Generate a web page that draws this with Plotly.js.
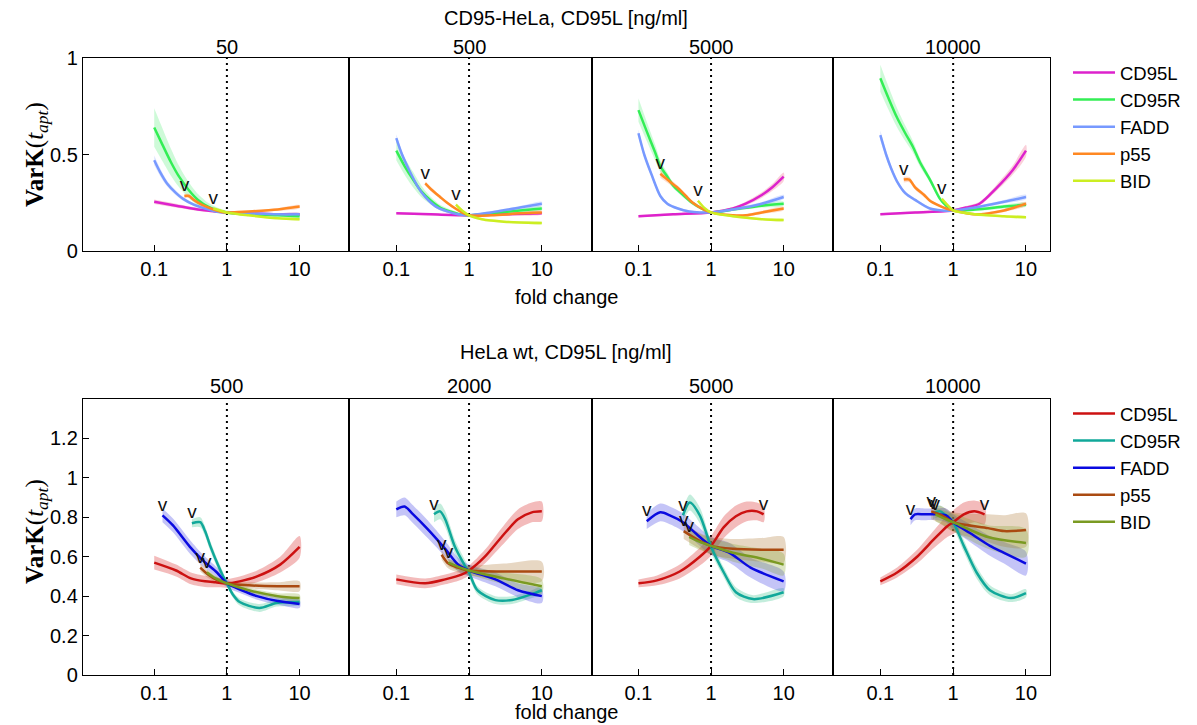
<!DOCTYPE html>
<html><head><meta charset="utf-8">
<script src="https://cdn.plot.ly/plotly-3.0.1.min.js"></script>
<style>html,body{margin:0;padding:0;background:#fff}#chart{width:1197px;height:725px}</style>
</head><body><div id="chart"></div>
<script>
var species = ['CD95L','CD95R','FADD','p55','BID'];
var topConc = ['50','500','5000','10000'];
var botConc = ['500','2000','5000','10000'];
var foldTicks = [0.1, 1, 10];
var foldTickText = ['0.1','1','10'];
var topYTicks = [0, 0.5, 1];
var topYText = ['0','0.5','1'];
var botYTicks = [0, 0.2, 0.4, 0.6, 0.8, 1, 1.2];
var botYText = ['0','0.2','0.4','0.6','0.8','1','1.2'];
var refFold = 1;

// ===== top row: CD95-HeLa, 50 ng/ml =====
var T1_CD95L_x = [0.1,0.2,0.4,1,2,5,10];
var T1_CD95L_y = [0.255,0.235,0.215,0.2,0.195,0.19,0.19];
var T1_CD95L_e = [0.012,0.01,0.008,0.006,0.006,0.006,0.008];
var T1_CD95R_x = [0.1,0.13,0.17,0.22,0.3,0.4,0.55,0.75,1,2,5,10];
var T1_CD95R_y = [0.64,0.55,0.46,0.385,0.315,0.265,0.23,0.21,0.2,0.19,0.185,0.18];
var T1_CD95R_e = [0.1,0.085,0.07,0.055,0.04,0.03,0.02,0.014,0.01,0.008,0.008,0.008];
var T1_FADD_x = [0.1,0.12,0.15,0.2,0.25,0.35,0.5,0.7,1,2,5,10];
var T1_FADD_y = [0.47,0.41,0.35,0.3,0.27,0.24,0.22,0.205,0.2,0.195,0.19,0.19];
var T1_FADD_e = [0.025,0.02,0.015,0.012,0.01,0.008,0.006,0.006,0.006,0.006,0.006,0.006];
var T1_p55_x = [0.26,0.3,0.35,0.45,0.6,0.8,1,2,5,10];
var T1_p55_y = [0.285,0.285,0.265,0.24,0.22,0.205,0.2,0.205,0.215,0.23];
var T1_p55_e = [0.01,0.01,0.009,0.008,0.007,0.006,0.006,0.006,0.007,0.008];
var T1_BID_x = [0.65,0.8,1,2,5,10];
var T1_BID_y = [0.22,0.21,0.2,0.185,0.17,0.165];
var T1_BID_e = [0.008,0.007,0.006,0.006,0.006,0.006];
var T1_marks = ['p55:start','BID:start'];

// ===== top row: 500 ng/ml =====
var T2_CD95L_x = [0.1,0.3,1,3,10];
var T2_CD95L_y = [0.195,0.19,0.185,0.19,0.195];
var T2_CD95L_e = [0.006,0.006,0.006,0.006,0.006];
var T2_CD95R_x = [0.1,0.13,0.17,0.22,0.3,0.4,0.55,0.75,1,2,5,10];
var T2_CD95R_y = [0.52,0.44,0.37,0.31,0.26,0.225,0.205,0.19,0.185,0.195,0.21,0.22];
var T2_CD95R_e = [0.05,0.045,0.04,0.03,0.02,0.015,0.01,0.008,0.006,0.008,0.01,0.01];
var T2_FADD_x = [0.1,0.12,0.15,0.2,0.25,0.35,0.5,0.7,1,2,5,10];
var T2_FADD_y = [0.585,0.5,0.42,0.33,0.28,0.23,0.205,0.19,0.185,0.2,0.225,0.245];
var T2_FADD_e = [0.02,0.016,0.013,0.01,0.008,0.007,0.006,0.006,0.006,0.007,0.008,0.01];
var T2_p55_x = [0.25,0.3,0.4,0.5,0.65,0.8,1,2,5,10];
var T2_p55_y = [0.35,0.32,0.28,0.25,0.22,0.2,0.185,0.185,0.195,0.2];
var T2_p55_e = [0.01,0.01,0.009,0.008,0.007,0.006,0.006,0.006,0.007,0.008];
var T2_BID_x = [0.66,0.8,1,1.5,2,3,5,10];
var T2_BID_y = [0.24,0.21,0.185,0.165,0.158,0.152,0.148,0.145];
var T2_BID_e = [0.008,0.007,0.006,0.006,0.006,0.006,0.006,0.006];
var T2_marks = ['p55:start','BID:start'];

// ===== top row: 5000 ng/ml =====
var T3_CD95L_x = [0.1,0.3,1,2,3,5,7,10];
var T3_CD95L_y = [0.18,0.19,0.2,0.22,0.245,0.29,0.33,0.385];
var T3_CD95L_e = [0.006,0.006,0.006,0.008,0.01,0.014,0.018,0.022];
var T3_CD95R_x = [0.1,0.13,0.17,0.2,0.25,0.3,0.4,0.55,0.75,1,2,5,10];
var T3_CD95R_y = [0.73,0.62,0.51,0.44,0.385,0.34,0.295,0.25,0.22,0.2,0.215,0.235,0.245];
var T3_CD95R_e = [0.06,0.05,0.04,0.03,0.02,0.015,0.012,0.01,0.008,0.006,0.008,0.01,0.01];
var T3_FADD_x = [0.1,0.12,0.15,0.2,0.25,0.35,0.5,0.7,1,2,5,10];
var T3_FADD_y = [0.61,0.5,0.4,0.285,0.245,0.22,0.205,0.2,0.2,0.215,0.245,0.28];
var T3_FADD_e = [0.02,0.016,0.013,0.01,0.008,0.007,0.006,0.006,0.006,0.007,0.009,0.011];
var T3_p55_x = [0.2,0.25,0.34,0.45,0.56,0.75,1,2,3,5,10];
var T3_p55_y = [0.4,0.37,0.33,0.285,0.25,0.22,0.2,0.185,0.185,0.2,0.22];
var T3_p55_e = [0.02,0.016,0.012,0.01,0.008,0.007,0.006,0.006,0.007,0.008,0.009];
var T3_BID_x = [0.66,0.8,1,2,5,10];
var T3_BID_y = [0.26,0.225,0.2,0.18,0.165,0.16];
var T3_BID_e = [0.008,0.007,0.006,0.006,0.006,0.006];
var T3_marks = ['p55:start','BID:start'];

// ===== top row: 10000 ng/ml =====
var T4_CD95L_x = [0.1,0.3,1,1.5,2.3,3.9,6.6,10];
var T4_CD95L_y = [0.19,0.2,0.21,0.225,0.245,0.325,0.42,0.52];
var T4_CD95L_e = [0.006,0.006,0.006,0.008,0.01,0.016,0.024,0.03];
var T4_CD95R_x = [0.1,0.13,0.17,0.22,0.28,0.35,0.48,0.66,0.8,1,2,5,10];
var T4_CD95R_y = [0.895,0.79,0.69,0.61,0.54,0.46,0.37,0.27,0.235,0.21,0.215,0.23,0.24];
var T4_CD95R_e = [0.07,0.06,0.05,0.04,0.03,0.022,0.015,0.01,0.008,0.006,0.008,0.01,0.01];
var T4_FADD_x = [0.1,0.12,0.14,0.17,0.22,0.3,0.48,0.7,1,2,5,10];
var T4_FADD_y = [0.6,0.5,0.43,0.36,0.3,0.265,0.22,0.21,0.21,0.225,0.255,0.28];
var T4_FADD_e = [0.025,0.02,0.016,0.012,0.01,0.008,0.006,0.006,0.006,0.007,0.009,0.011];
var T4_p55_x = [0.21,0.25,0.3,0.4,0.48,0.6,0.8,1,2,3,5,10];
var T4_p55_y = [0.37,0.37,0.33,0.29,0.26,0.24,0.22,0.21,0.19,0.195,0.21,0.245];
var T4_p55_e = [0.015,0.014,0.012,0.01,0.008,0.007,0.006,0.006,0.006,0.007,0.008,0.01];
var T4_BID_x = [0.7,0.85,1,2,5,10];
var T4_BID_y = [0.27,0.235,0.21,0.19,0.18,0.175];
var T4_BID_e = [0.008,0.007,0.006,0.006,0.006,0.006];
var T4_marks = ['p55:start','BID:start'];

// ===== bottom row: HeLa wt, 500 ng/ml =====
var B1_CD95L_x = [0.1,0.2,0.32,0.5,0.7,1,1.5,2.6,5.4,10];
var B1_CD95L_y = [0.57,0.53,0.49,0.475,0.47,0.465,0.475,0.5,0.56,0.65];
var B1_CD95L_e = [0.035,0.03,0.03,0.028,0.025,0.022,0.025,0.03,0.04,0.055];
var B1_CD95R_x = [0.33,0.43,0.5,0.59,0.75,0.89,1,1.2,1.5,2.8,4.8,10];
var B1_CD95R_y = [0.77,0.775,0.73,0.655,0.56,0.5,0.465,0.41,0.37,0.34,0.365,0.37];
var B1_CD95R_e = [0.02,0.025,0.025,0.025,0.022,0.02,0.015,0.015,0.018,0.02,0.018,0.015];
var B1_FADD_x = [0.13,0.18,0.31,0.47,0.73,1,1.6,2.6,5,10];
var B1_FADD_y = [0.81,0.76,0.65,0.58,0.52,0.465,0.43,0.4,0.375,0.36];
var B1_FADD_e = [0.035,0.035,0.035,0.03,0.025,0.02,0.018,0.018,0.018,0.02];
var B1_p55_x = [0.43,0.55,0.75,1,2,5,10];
var B1_p55_y = [0.545,0.51,0.48,0.465,0.455,0.45,0.45];
var B1_p55_e = [0.02,0.018,0.015,0.012,0.015,0.02,0.025];
var B1_BID_x = [0.53,0.7,1,2,5,10];
var B1_BID_y = [0.52,0.49,0.465,0.43,0.4,0.39];
var B1_BID_e = [0.015,0.012,0.01,0.012,0.015,0.018];
var B1_marks = ['FADD:start','CD95R:start','p55:start','BID:start'];

// ===== bottom row: 2000 ng/ml =====
var B2_CD95L_x = [0.1,0.25,0.47,0.8,1,1.65,2.8,4.7,7.3,10];
var B2_CD95L_y = [0.485,0.465,0.485,0.51,0.53,0.6,0.7,0.79,0.825,0.83];
var B2_CD95L_e = [0.025,0.025,0.025,0.025,0.025,0.035,0.045,0.05,0.05,0.05];
var B2_CD95R_x = [0.33,0.4,0.47,0.64,0.89,1,1.3,2.3,3.9,7.3,10];
var B2_CD95R_y = [0.815,0.83,0.79,0.65,0.55,0.52,0.43,0.38,0.38,0.41,0.43];
var B2_CD95R_e = [0.04,0.04,0.04,0.035,0.03,0.025,0.02,0.02,0.02,0.02,0.02];
var B2_FADD_x = [0.1,0.13,0.165,0.27,0.47,0.71,1,2.3,4.7,10];
var B2_FADD_y = [0.84,0.855,0.82,0.74,0.64,0.56,0.53,0.485,0.43,0.4];
var B2_FADD_e = [0.04,0.045,0.045,0.045,0.04,0.035,0.03,0.035,0.035,0.035];
var B2_p55_x = [0.42,0.52,0.7,1,3,10];
var B2_p55_y = [0.61,0.565,0.545,0.53,0.525,0.525];
var B2_p55_e = [0.025,0.025,0.025,0.025,0.04,0.05];
var B2_BID_x = [0.52,0.7,1,3,10];
var B2_BID_y = [0.57,0.55,0.53,0.49,0.45];
var B2_BID_e = [0.02,0.02,0.02,0.03,0.035];
var B2_marks = ['CD95R:start','p55:start','BID:start'];

// ===== bottom row: 5000 ng/ml =====
var B3_CD95L_x = [0.1,0.18,0.37,0.7,1,1.5,2.2,3.1,4.3,5.3];
var B3_CD95L_y = [0.465,0.48,0.525,0.6,0.655,0.75,0.805,0.83,0.83,0.815];
var B3_CD95L_e = [0.02,0.025,0.035,0.045,0.05,0.055,0.055,0.05,0.045,0.04];
var B3_CD95R_x = [0.41,0.51,0.7,1,1.5,2.2,3.8,10];
var B3_CD95R_y = [0.81,0.875,0.81,0.65,0.52,0.42,0.385,0.42];
var B3_CD95R_e = [0.03,0.04,0.04,0.03,0.025,0.025,0.02,0.02];
var B3_FADD_x = [0.13,0.2,0.27,0.41,0.63,1,1.8,3.5,10];
var B3_FADD_y = [0.78,0.825,0.81,0.775,0.715,0.655,0.62,0.545,0.475];
var B3_FADD_e = [0.04,0.045,0.045,0.045,0.045,0.045,0.05,0.05,0.05];
var B3_p55_x = [0.42,0.7,1,2,5,10];
var B3_p55_y = [0.73,0.68,0.655,0.64,0.635,0.635];
var B3_p55_e = [0.04,0.04,0.045,0.05,0.06,0.065];
var B3_BID_x = [0.5,0.7,1,2,5,10];
var B3_BID_y = [0.7,0.675,0.655,0.62,0.59,0.56];
var B3_BID_e = [0.04,0.04,0.04,0.045,0.05,0.055];
var B3_marks = ['FADD:start','CD95R:start','p55:start','BID:start','CD95L:end'];

// ===== bottom row: 10000 ng/ml =====
var B4_CD95L_x = [0.1,0.17,0.32,0.55,0.83,1,1.4,1.95,2.7];
var B4_CD95L_y = [0.475,0.52,0.6,0.69,0.755,0.775,0.815,0.83,0.815];
var B4_CD95L_e = [0.02,0.025,0.035,0.045,0.055,0.06,0.06,0.055,0.05];
var B4_CD95R_x = [0.53,0.66,0.8,1,1.4,2.1,3.2,6.2,10];
var B4_CD95R_y = [0.82,0.83,0.81,0.775,0.655,0.52,0.43,0.39,0.415];
var B4_CD95R_e = [0.03,0.03,0.03,0.03,0.03,0.03,0.025,0.02,0.02];
var B4_FADD_x = [0.26,0.3,0.4,0.6,0.8,1,1.7,3.2,5,10];
var B4_FADD_y = [0.79,0.815,0.815,0.815,0.81,0.775,0.72,0.655,0.62,0.565];
var B4_FADD_e = [0.03,0.03,0.03,0.03,0.035,0.04,0.045,0.05,0.055,0.06];
var B4_p55_x = [0.5,0.7,1,3,5,10];
var B4_p55_y = [0.83,0.81,0.775,0.745,0.73,0.735];
var B4_p55_e = [0.04,0.045,0.05,0.07,0.08,0.085];
var B4_BID_x = [0.57,0.8,1,3,10];
var B4_BID_y = [0.815,0.79,0.775,0.7,0.67];
var B4_BID_e = [0.035,0.04,0.045,0.06,0.07];
var B4_marks = ['FADD:start','CD95R:start','p55:start','BID:start','CD95L:end'];

// ---------- styling (not data) ----------
var FONT = 'Liberation Sans, Arial, sans-serif';
var topColors = ['#dd22cc','#33ee55','#7799ff','#ff8822','#ccee22'];
var topBands  = ['rgba(240,120,150,0.35)','rgba(60,235,100,0.25)','rgba(120,150,255,0.25)','rgba(250,140,90,0.3)','rgba(200,240,60,0.3)'];
var botColors = ['#cc1111','#11a89a','#0a0ae0','#aa4a11','#7a9a22'];
var botBands  = ['rgba(220,60,60,0.35)','rgba(40,190,130,0.28)','rgba(60,60,230,0.3)','rgba(170,110,40,0.28)','rgba(130,160,40,0.28)'];

var panels = [
  {id:'T1', n:1, row:'top', dom:[83,349], rng:[-1.98,1.68]},
  {id:'T2', n:2, row:'top', dom:[349,592], rng:[-1.65,1.69]},
  {id:'T3', n:3, row:'top', dom:[592,833], rng:[-1.64,1.68]},
  {id:'T4', n:4, row:'top', dom:[833,1050], rng:[-1.65,1.33]},
  {id:'B1', n:5, row:'bot', dom:[83,349], rng:[-1.98,1.68]},
  {id:'B2', n:6, row:'bot', dom:[349,592], rng:[-1.65,1.69]},
  {id:'B3', n:7, row:'bot', dom:[592,833], rng:[-1.64,1.68]},
  {id:'B4', n:8, row:'bot', dom:[833,1050], rng:[-1.65,1.33]}
];
var W = 1197, H = 725;
var rowY = {top:[58,251], bot:[399,675]};
var rowRange = {top:[0,1], bot:[0,1.4]};

var bandTraces = [], lineTraces = [], refTraces = [], markTraces = [];
var layout = {
  width: W, height: H, autosize: false,
  margin: {l:0, r:0, t:0, b:0},
  paper_bgcolor: '#fff', plot_bgcolor: '#fff',
  font: {family: FONT, size: 20, color: '#000'},
  annotations: [],
  showlegend: true,
  legend: {x: 1068/W, y: 1 - 54/H, xanchor: 'left', yanchor: 'top', bgcolor: 'rgba(0,0,0,0)',
           font: {family: FONT, size: 18.5, color: '#000'}, itemwidth: 42, tracegroupgap: 0, traceorder: 'normal'},
  legend2: {x: 1068/W, y: 1 - 395/H, xanchor: 'left', yanchor: 'top', bgcolor: 'rgba(0,0,0,0)',
           font: {family: FONT, size: 18.5, color: '#000'}, itemwidth: 42, tracegroupgap: 0, traceorder: 'normal'}
};

panels.forEach(function(p){
  var isTop = p.row === 'top';
  var colors = isTop ? topColors : botColors;
  var bands = isTop ? topBands : botBands;
  var xa = 'x' + (p.n === 1 ? '' : p.n), ya = 'y' + (p.n === 1 ? '' : p.n);
  var xk = 'xaxis' + (p.n === 1 ? '' : p.n), yk = 'yaxis' + (p.n === 1 ? '' : p.n);
  var first = (p.n === 1 || p.n === 5);
  var ry = rowY[p.row];
  var yr = rowRange[p.row];
  layout[xk] = {
    type: 'log', range: p.rng, domain: [p.dom[0]/W, p.dom[1]/W], anchor: ya,
    tickvals: foldTicks, ticktext: foldTickText, ticks: 'inside', ticklen: 6, tickwidth: 1, tickcolor: '#000',
    showline: true, linecolor: '#000', linewidth: 1.2, mirror: true, showgrid: false, zeroline: false,
    tickfont: {family: FONT, size: 20, color: '#000'}, fixedrange: true
  };
  layout[yk] = {
    range: yr, domain: [1 - ry[1]/H, 1 - ry[0]/H], anchor: xa,
    showline: true, linecolor: '#000', linewidth: 1.2, mirror: true, showgrid: false, zeroline: false,
    tickvals: first ? (isTop ? topYTicks : botYTicks) : [], ticktext: first ? (isTop ? topYText : botYText) : [],
    ticks: first ? 'inside' : '', ticklen: 6, tickcolor: '#000', showticklabels: first,
    tickfont: {family: FONT, size: 20, color: '#000'}, fixedrange: true
  };
  // dotted reference line at fold change 1 (spans the full y range)
  refTraces.push({type:'scatter', mode:'lines', x: [refFold, refFold], y: [yr[0], yr[1]], xaxis: xa, yaxis: ya,
    line: {color:'#000', width: 2, dash: '2px,4px'}, hoverinfo: 'skip', showlegend: false, cliponaxis: true});
  // panel concentration title
  layout.annotations.push({xref: xa, yref: 'paper', x: Math.log10(refFold), y: 1 - (isTop ? 47 : 386)/H,
    text: isTop ? topConc[p.n-1] : botConc[p.n-5], showarrow: false, xanchor: 'center', yanchor: 'middle',
    font: {family: FONT, size: 20, color: '#000'}});

  species.forEach(function(s, i){
    var x = window[p.id + '_' + s + '_x'], y = window[p.id + '_' + s + '_y'], e = window[p.id + '_' + s + '_e'];
    var bx = x.concat(x.slice().reverse());
    var up = y.map(function(v,k){return v + e[k];});
    var lo = y.map(function(v,k){return v - e[k];});
    var by = up.concat(lo.reverse());
    bandTraces.push({type:'scatter', mode:'lines', x: bx, y: by, xaxis: xa, yaxis: ya, fill: 'toself',
      fillcolor: bands[i], line: {width: 0, shape: 'spline', smoothing: 0.8}, hoverinfo: 'skip', showlegend: false});
    lineTraces.push({type:'scatter', mode:'lines', x: x, y: y, xaxis: xa, yaxis: ya, name: s,
      line: {color: colors[i], width: 2.5, shape: 'spline', smoothing: 0.8},
      showlegend: first, legend: isTop ? 'legend' : 'legend2'});
  });
  var mk = window[p.id + '_marks'];
  var mx = [], my = [];
  mk.forEach(function(m){
    var parts = m.split(':');
    var x = window[p.id + '_' + parts[0] + '_x'], y = window[p.id + '_' + parts[0] + '_y'];
    var k = parts[1] === 'start' ? 0 : x.length - 1;
    mx.push(x[k]); my.push(y[k]);
  });
  markTraces.push({type:'scatter', mode:'text', x: mx, y: my, xaxis: xa, yaxis: ya, text: mx.map(function(){return 'v';}),
    textposition: 'top center', textfont: {family: FONT, size: 19, color: '#111'}, showlegend: false, hoverinfo: 'skip', cliponaxis: false});
});
var traces = refTraces.concat(bandTraces, lineTraces, markTraces);

// figure-level texts
layout.annotations.push(
  {xref:'paper', yref:'paper', x: 566/W, y: 1 - 18/H, text: 'CD95-HeLa, CD95L [ng/ml]', showarrow: false, xanchor:'center', yanchor:'middle', font:{family: FONT, size: 20}},
  {xref:'paper', yref:'paper', x: 566/W, y: 1 - 352/H, text: 'HeLa wt, CD95L [ng/ml]', showarrow: false, xanchor:'center', yanchor:'middle', font:{family: FONT, size: 20}},
  {xref:'paper', yref:'paper', x: 566/W, y: 1 - 297/H, text: 'fold change', showarrow: false, xanchor:'center', yanchor:'middle', font:{family: FONT, size: 20}},
  {xref:'paper', yref:'paper', x: 566/W, y: 1 - 712/H, text: 'fold change', showarrow: false, xanchor:'center', yanchor:'middle', font:{family: FONT, size: 20}},
  {xref:'paper', yref:'paper', x: 36/W, y: 1 - 155/H, text: '<b>VarK</b>(<i>t</i><sub><i>apt</i></sub>)', textangle: -90, showarrow: false, xanchor:'center', yanchor:'middle', font:{family: 'Liberation Serif, DejaVu Serif, serif', size: 25}},
  {xref:'paper', yref:'paper', x: 36/W, y: 1 - 532/H, text: '<b>VarK</b>(<i>t</i><sub><i>apt</i></sub>)', textangle: -90, showarrow: false, xanchor:'center', yanchor:'middle', font:{family: 'Liberation Serif, DejaVu Serif, serif', size: 25}}
);

Plotly.newPlot('chart', traces, layout, {displayModeBar: false, staticPlot: true});
</script>
</body></html>
